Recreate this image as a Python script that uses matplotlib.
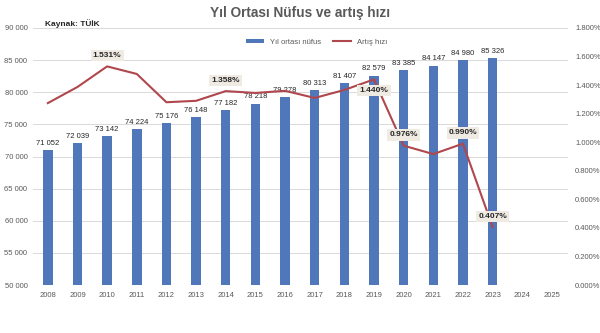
import numpy as np
import matplotlib.pyplot as plt

plt.rcParams['font.family'] = ['Liberation Sans', 'DejaVu Sans']

years = [str(y) for y in range(2008, 2026)]
nufus = [71052, 72039, 73142, 74224, 75176, 76148, 77182, 78218, 79278,
         80313, 81407, 82579, 83385, 84147, 84980, 85326]
nufus_labels = ["71 052", "72 039", "73 142", "74 224", "75 176", "76 148",
                "77 182", "78 218", "79 278", "80 313", "81 407", "82 579",
                "83 385", "84 147", "84 980", "85 326"]
artis = [1.274, 1.387, 1.531, 1.478, 1.280, 1.290, 1.358, 1.345, 1.360,
         1.310, 1.366, 1.440, 0.976, 0.917, 0.990, 0.407]
# etiketli noktalar: indeks -> konum (yukarı / aşağı)
artis_etiket = {2: "up", 6: "up", 11: "down", 12: "up", 14: "up", 15: "up"}

bar_color = "#4F77BA"
line_color = "#B0474D"
text_gray = "#595959"

fig = plt.figure(figsize=(6, 3.33), dpi=100)
ax = fig.add_axes([0.055, 0.144, 0.892, 0.772])
ax2 = ax.twinx()

x = np.arange(len(nufus))
ax.bar(x, nufus, width=0.32, color=bar_color, zorder=2, label="Yıl ortası nüfus")
for i, v in enumerate(nufus):
    ax.text(i, v + 500, nufus_labels[i], ha="center", va="bottom",
            fontsize=5.5, color="#262626", zorder=5)

ax.set_ylim(50000, 90000)
ax.set_yticks(np.arange(50000, 90001, 5000))
ax.set_yticklabels([f"{v:,}".replace(",", " ") for v in range(50000, 90001, 5000)])
ax.set_xlim(-0.5, len(years) - 0.45)
ax.set_xticks(np.arange(len(years)))
ax.set_xticklabels(years)
ax.grid(axis="y", color="#D9D9D9", lw=0.7, zorder=0)
ax.set_axisbelow(True)

ax2.plot(x, artis, color=line_color, lw=1.5, zorder=3, label="Artış hızı")
ax2.set_ylim(0, 1.8)
ax2.set_yticks(np.arange(0, 1.81, 0.2))
ax2.set_yticklabels([f"{v:.3f}%" for v in np.arange(0, 1.81, 0.2)])
for i, pos in artis_etiket.items():
    off = 0.075 if pos == "up" else -0.075
    ax2.text(i, artis[i] + off, f"{artis[i]:.3f}%", ha="center", va="center",
             fontsize=6, fontweight="bold", color="#262626", zorder=6,
             bbox=dict(boxstyle="square,pad=0.25", fc="#EFEBE3", ec="none"))

for a in (ax, ax2):
    for s in a.spines.values():
        s.set_visible(False)
    a.tick_params(length=0, labelsize=5.5, labelcolor=text_gray)
ax.tick_params(axis="x", pad=5)
ax.tick_params(axis="y", pad=4)
ax2.tick_params(axis="y", pad=5)

h1, l1 = ax.get_legend_handles_labels()
h2, l2 = ax2.get_legend_handles_labels()
ax.legend(h1 + h2, l1 + l2, loc="center", bbox_to_anchor=(0.53, 0.945),
          ncol=2, frameon=False, fontsize=5.5, labelcolor=text_gray,
          handlelength=2.4, handleheight=0.4, columnspacing=1.5)

fig.text(0.5, 0.962, "Yıl Ortası Nüfus ve artış hızı", ha="center", va="center",
         fontsize=9.8, fontweight="bold", color=text_gray)
fig.text(0.075, 0.93, "Kaynak: TÜİK", ha="left", va="center",
         fontsize=6, fontweight="bold", color="#262626")

fig.savefig("out.png", dpi=100)
